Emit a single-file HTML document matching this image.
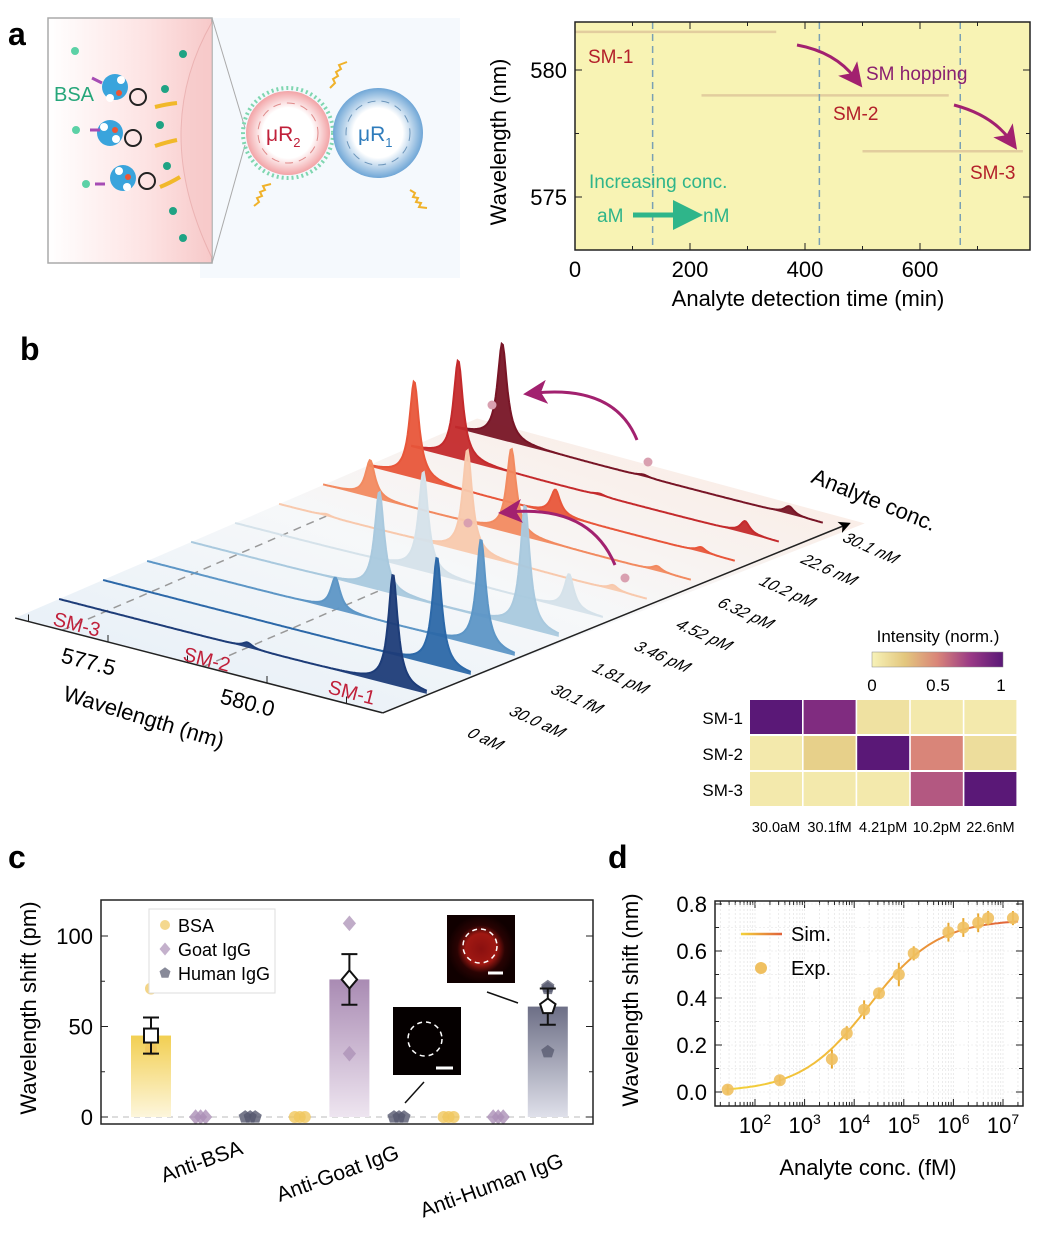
<!DOCTYPE html>
<html><head><meta charset="utf-8"><style>
html,body{margin:0;padding:0;background:#fff;}
svg{display:block;font-family:"Liberation Sans",Arial,sans-serif;}
</style></head><body>
<svg id="fig" width="1060" height="1244" viewBox="0 0 1060 1244" xmlns="http://www.w3.org/2000/svg">
<defs>
<linearGradient id="pinkbg" x1="0" x2="1" y1="0" y2="0"><stop offset="0" stop-color="#fff"/><stop offset="0.6" stop-color="#fde3e3"/><stop offset="1" stop-color="#f7c9c9"/></linearGradient>
<radialGradient id="r2g"><stop offset="0.6" stop-color="#fff"/><stop offset="1" stop-color="#f2a3a6"/></radialGradient>
<radialGradient id="r1g"><stop offset="0.55" stop-color="#fff"/><stop offset="1" stop-color="#6fa6d6"/></radialGradient>
<linearGradient id="floorg" x1="0" x2="1" y1="1" y2="0"><stop offset="0" stop-color="#dce9f5"/><stop offset="0.5" stop-color="#f4f6f8"/><stop offset="1" stop-color="#fbe3d6"/></linearGradient>
<linearGradient id="simg" x1="0" x2="1"><stop offset="0" stop-color="#f3d23a"/><stop offset="0.5" stop-color="#f0b23a"/><stop offset="1" stop-color="#e0603a"/></linearGradient>
<linearGradient id="simLeg" gradientUnits="userSpaceOnUse" x1="741" x2="782" y1="0" y2="0"><stop offset="0" stop-color="#f3d23a"/><stop offset="1" stop-color="#e0603a"/></linearGradient>
<linearGradient id="cbar" x1="0" x2="1"><stop offset="0" stop-color="#f7f2b8"/><stop offset="0.25" stop-color="#e3c77e"/><stop offset="0.5" stop-color="#d98579"/><stop offset="0.75" stop-color="#9a3a86"/><stop offset="1" stop-color="#5a1877"/></linearGradient>
<linearGradient id="barB" x1="0" y1="0" x2="0" y2="1"><stop offset="0" stop-color="#f2cf52"/><stop offset="1" stop-color="#fdf6dc"/></linearGradient>
<linearGradient id="barG" x1="0" y1="0" x2="0" y2="1"><stop offset="0" stop-color="#a98bb3"/><stop offset="1" stop-color="#eee5f0"/></linearGradient>
<linearGradient id="barH" x1="0" y1="0" x2="0" y2="1"><stop offset="0" stop-color="#6d6f86"/><stop offset="1" stop-color="#dfe0ea"/></linearGradient>
<radialGradient id="insetRed"><stop offset="0" stop-color="#8a1010"/><stop offset="0.45" stop-color="#a01812"/><stop offset="0.7" stop-color="#2a0303"/><stop offset="1" stop-color="#100000"/></radialGradient>
<marker id="arrM" markerWidth="8" markerHeight="8" refX="4" refY="4" orient="auto"><path d="M0,0 L8,4 L0,8 L2,4 z" fill="#a2216f"/></marker>
<marker id="arrG" markerWidth="6" markerHeight="6" refX="3" refY="3" orient="auto"><path d="M0,0 L6,3 L0,6 z" fill="#2fb58a"/></marker>
<marker id="arrK" markerWidth="8" markerHeight="8" refX="6" refY="4" orient="auto"><path d="M0,0 L8,4 L0,8 L2,4 z" fill="#000"/></marker>
</defs>

<text x="8" y="45" font-size="32" font-weight="bold">a</text>
<text x="20" y="360" font-size="32" font-weight="bold">b</text>
<text x="8" y="868" font-size="32" font-weight="bold">c</text>
<text x="608" y="868" font-size="32" font-weight="bold">d</text>

<g>
<rect x="200" y="18" width="260" height="260" fill="#f1f7fc" opacity="0.7"/>
<rect x="48" y="18" width="164" height="245" fill="url(#pinkbg)" stroke="#aaa" stroke-width="1.5"/>
<path d="M212,22 Q150,130 212,258" fill="#f7caca" opacity="0.6" stroke="#e3a0a0"/>
<line x1="212" y1="18" x2="245" y2="128" stroke="#aaa"/>
<line x1="212" y1="263" x2="245" y2="145" stroke="#aaa"/>
<text x="54" y="101" font-size="20" fill="#26a67a">BSA</text>
<g>
<circle cx="115" cy="87" r="13" fill="#3aa4dc"/><circle cx="110" cy="98" r="4" fill="#fff"/><circle cx="121" cy="80" r="4" fill="#fff"/><circle cx="119" cy="93" r="3" fill="#e53"/>
<circle cx="110" cy="133" r="13" fill="#3aa4dc"/><circle cx="104" cy="127" r="4" fill="#fff"/><circle cx="116" cy="139" r="4" fill="#fff"/><circle cx="115" cy="130" r="3" fill="#e53"/>
<circle cx="123" cy="178" r="13" fill="#3aa4dc"/><circle cx="119" cy="171" r="4" fill="#fff"/><circle cx="127" cy="187" r="4" fill="#fff"/><circle cx="128" cy="177" r="3" fill="#e53"/>
<circle cx="138" cy="97" r="8" fill="none" stroke="#222" stroke-width="2"/><circle cx="133" cy="138" r="8" fill="none" stroke="#222" stroke-width="2"/><circle cx="147" cy="181" r="8" fill="none" stroke="#222" stroke-width="2"/>
<circle cx="75" cy="51" r="4" fill="#5cd1a6"/><circle cx="76" cy="130" r="4" fill="#5cd1a6"/><circle cx="86" cy="184" r="4" fill="#5cd1a6"/>
<path d="M92,78 l10,5 M90,130 l10,0 M95,184 l10,0" stroke="#a64cb4" stroke-width="3"/>
<path d="M155,107 q12,-3 22,-4 M155,146 q12,-4 22,-6 M160,187 q10,-4 20,-10" stroke="#f1b82a" stroke-width="4" fill="none"/>
<circle cx="183" cy="54" r="4" fill="#1fa384"/><circle cx="165" cy="89" r="4" fill="#1fa384"/><circle cx="160" cy="125" r="4" fill="#1fa384"/><circle cx="167" cy="166" r="4" fill="#1fa384"/><circle cx="173" cy="211" r="4" fill="#1fa384"/><circle cx="183" cy="238" r="4" fill="#1fa384"/>
</g>
<circle cx="288" cy="133" r="45" fill="none" stroke="#7fd6b0" stroke-width="4" stroke-dasharray="2,3"/>
<circle cx="288" cy="133" r="42" fill="url(#r2g)"/>
<circle cx="288" cy="133" r="30" fill="none" stroke="#e08a8a" stroke-dasharray="8,6"/>
<text x="266" y="141" font-size="21" fill="#c0203a">μR<tspan font-size="13" dy="6">2</tspan></text>
<circle cx="378" cy="133" r="45" fill="url(#r1g)"/>
<circle cx="378" cy="133" r="32" fill="none" stroke="#6d96bb" stroke-dasharray="8,6"/>
<text x="358" y="141" font-size="21" fill="#2f7cbc">μR<tspan font-size="13" dy="6">1</tspan></text>
<path d="M330,88 l5,-5 l-2,-4 l5,-3 l-2,-4 l5,-3 l-2,-4 l8,-3 M254,206 l5,-4 l-2,-4 l5,-2 l-2,-4 l5,-2 l-2,-4 l8,-2 M410,190 l5,3 l-2,4 l5,1 l-2,4 l5,1 l-2,4 l8,1" stroke="#f0b22a" stroke-width="2" fill="none"/>
</g>

<g id="pa"></g>
<g id="pb"></g>
<g id="ph"></g>
<g id="pc"></g>
<g id="pd"></g>
</svg>
<script>
const modeNames = ['SM-1','SM-2','SM-3'];
const modeStart = [0, 220, 500];
const modeEnd = [350, 650, 779];
const modeWl = [581.5, 579.0, 576.8];
const dashTimes = [135, 425, 670];
const aXTicks = [0, 200, 400, 600];
const aYTicks = [575, 580];

const concLabels = ['0 aM','30.0 aM','30.1 fM','1.81 pM','3.46 pM','4.52 pM','6.32 pM','10.2 pM','22.6 nM','30.1 nM'];
const peakWl = [581.29, 579.0, 576.78];
const sm1Int = [1.11, 1.09, 1.08, 1.23, 0.35, 0.05, 0.05, 0.05, 0.12, 0.08];
const sm2Int = [0.05, 0.0, 0.32, 0.99, 1.00, 1.03, 0.85, 0.25, 0.02, 0.02];
const sm3Int = [0, 0, 0, 0, 0, 0.02, 0.37, 0.97, 0.99, 0.97];
const rowColors = ['#1d3c78','#2c68a8','#5d96c6','#a9c9de','#d5e2ea','#f8c9ad','#f28a60','#e8563a','#c42a2c','#781526'];

const hmRows = ['SM-1','SM-2','SM-3'];
const hmCols = ['30.0aM','30.1fM','4.21pM','10.2pM','22.6nM'];
const hmVals = [[1.0,0.85,0.1,0.05,0.05],[0.05,0.2,1.0,0.5,0.12],[0.05,0.05,0.05,0.65,1.0]];

const cCats = ['Anti-BSA','Anti-Goat IgG','Anti-Human IgG'];
const cMeans = [45, 76, 61];
const cErr = [10, 14, 10];
const cPoints = [[71,37,38],[107,72,35],[72,71,36]];
const cTicks = [0, 50, 100];

const dLogConc = [1.45, 2.5, 3.55, 3.85, 4.2, 4.5, 4.9, 5.2, 5.9, 6.2, 6.5, 6.7, 7.2];
const dShift = [0.01, 0.05, 0.14, 0.25, 0.35, 0.42, 0.50, 0.59, 0.68, 0.70, 0.72, 0.74, 0.74];
const dErr = [0.02, 0.02, 0.04, 0.03, 0.04, 0.02, 0.05, 0.03, 0.04, 0.04, 0.04, 0.03, 0.03];
const simMax = 0.735, simLogK = 4.3, simN = 0.63;
const dYTicks = [0, 0.2, 0.4, 0.6, 0.8];
const dXTicks = [2, 3, 4, 5, 6, 7];

const NS = 'http://www.w3.org/2000/svg';
function mk(tag, attrs, parent){ const e=document.createElementNS(NS,tag); for(const k in attrs) e.setAttribute(k,attrs[k]); parent.appendChild(e); return e; }
function txt(s, attrs, parent){ const e=mk('text',attrs,parent); e.textContent=s; return e; }

(function(){
 const g=document.getElementById('pa');
 const L=575,R=1030,T=22,B=250;
 const xA=t=>L+t*0.575, yA=w=>70+(580-w)*25.4;
 let e=mk('rect',{x:L,y:T,width:R-L,height:B-T,fill:'#f8f3b4'},g);
 
 
 for(let i=0;i<modeWl.length;i++){
  const ln=mk('line',{x1:xA(modeStart[i]),x2:xA(modeEnd[i]),y1:yA(modeWl[i]),y2:yA(modeWl[i]),stroke:'#b0786c','stroke-width':2.5,opacity:0.3},g);
  
  
 }
 for(const t of dashTimes){
  const d=mk('line',{x1:xA(t),x2:xA(t),y1:T,y2:B,stroke:'#7aa0b4','stroke-width':1.5,'stroke-dasharray':'7,5'},g);
  
  
 }
 e=mk('rect',{x:L,y:T,width:R-L,height:B-T,fill:'none',stroke:'#222','stroke-width':1.5},g);
 
 
 for(let t=0;t<=780;t+=100){
  const maj=t%200===0, len=maj?7:4;
  mk('line',{x1:xA(t),x2:xA(t),y1:B,y2:B-len,stroke:'#222'},g);
  mk('line',{x1:xA(t),x2:xA(t),y1:T,y2:T+len,stroke:'#222'},g);
 }
 for(const t of aXTicks){
  const tl=txt(String(t),{x:xA(t),y:277,'font-size':22,'text-anchor':'middle'},g);
  
  
 }
 for(let w=572.5;w<=582;w+=2.5){
  if(yA(w)>B||yA(w)<T) continue;
  const maj=w%5===0,len=maj?7:4;
  mk('line',{x1:L,x2:L+len,y1:yA(w),y2:yA(w),stroke:'#222'},g);
  mk('line',{x1:R,x2:R-len,y1:yA(w),y2:yA(w),stroke:'#222'},g);
 }
 for(const w of aYTicks){
  const tl=txt(String(w),{x:567,y:yA(w)+8,'font-size':22,'text-anchor':'end'},g);
  
  
 }
 let t=txt('Wavelength (nm)',{x:0,y:0,'font-size':22,'text-anchor':'middle',transform:'translate(506,142) rotate(-90)'},g);
 
 
 t=txt('Analyte detection time (min)',{x:808,y:306,'font-size':22,'text-anchor':'middle'},g);
 
 
 const lab=[['SM-1',588,63],['SM-2',833,120],['SM-3',970,179]];
 for(const [s,x,y] of lab){ const l=txt(s,{x:x,y:y,'font-size':19,fill:'#b3202a'},g);
  
   }
 t=txt('SM hopping',{x:866,y:80,'font-size':19,fill:'#8a2070'},g);
 
 
 let a=mk('path',{d:'M797,45 Q835,52 855,78',fill:'none',stroke:'#a2216f','stroke-width':3,'marker-end':'url(#arrM)'},g);
 
 
 a=mk('path',{d:'M954,105 Q992,115 1010,140',fill:'none',stroke:'#a2216f','stroke-width':3,'marker-end':'url(#arrM)'},g);
 
 
 t=txt('Increasing conc.',{x:589,y:188,'font-size':19,fill:'#2fb58a'},g);
 
 
 t=txt('aM',{x:597,y:222,'font-size':19,fill:'#2fb58a'},g);
 
 
 t=txt('nM',{x:703,y:222,'font-size':19,fill:'#2fb58a'},g);
 
 
 a=mk('line',{x1:633,y1:215,x2:688,y2:215,stroke:'#2fb58a','stroke-width':5,'marker-end':'url(#arrG)'},g);
 
 
})();

(function(){
 const g=document.getElementById('pb');
 const WL0=576.04, WL1=581.82;
 const px=(w,d)=>108+(w-577.5)*63.6+44*d;
 const py=(w,d,h)=>642+(w-577.5)*63.6*0.258-19*d-h;
 let fl=mk('polygon',{points:`${px(WL0,0)},${py(WL0,0,0)} ${px(WL1,0)},${py(WL1,0,0)} ${px(WL1,10.5)+20},${py(WL1,10.5,0)+10} ${px(WL0,10.5)},${py(WL0,10.5,0)}`,fill:'url(#floorg)',opacity:0.8},g);
 
 
 const guides=[[peakWl[2],6],[peakWl[1],4]];
 for(const [w,d] of guides){ const l=mk('line',{x1:px(w,0),y1:py(w,0,0),x2:px(w,d),y2:py(w,d,0),stroke:'#999','stroke-width':1.5,'stroke-dasharray':'8,6'},g);
  
   }
 const ints=[sm1Int,sm2Int,sm3Int];
 const gam=0.09;
 for(let r=concLabels.length-1;r>=0;r--){
  const d=r+1; let pts=[];
  for(let k=0;k<=300;k++){
   const w=WL0+(WL1-WL0)*k/300; let h=0;
   for(let m=0;m<3;m++){ const dx=(w-peakWl[m])/gam; h+=ints[m][r]*100/(1+dx*dx); }
   pts.push([px(w,d),py(w,d,h)]);
  }
  const poly=pts.map(p=>p[0].toFixed(1)+','+p[1].toFixed(1)).join(' ');
  const area=mk('polygon',{points:poly+` ${px(WL1,d)},${py(WL1,d,0)} ${px(WL0,d)},${py(WL0,d,0)}`,fill:rowColors[r],opacity:0.95},g);
  
  
  const ln=mk('polyline',{points:poly,fill:'none',stroke:rowColors[r],'stroke-width':2},g);
  
  
  const lb=txt(concLabels[r],{x:0,y:0,'font-size':16,'font-style':'italic',transform:`translate(${466+41.7*r},${736-21.7*r}) rotate(24) skewX(-15)`},g);
  
  
 }
 let ax=mk('line',{x1:px(WL0,0),y1:py(WL0,0,0),x2:px(WL1,0),y2:py(WL1,0,0),stroke:'#222','stroke-width':1.5},g);
 
 
 ax=mk('line',{x1:px(WL1,0),y1:py(WL1,0,0),x2:848,y2:524,stroke:'#222','stroke-width':1.5,'marker-end':'url(#arrK)'},g);
 
 
 for(const w of [576.25,577.5,578.75,580,581.25]){ mk('line',{x1:px(w,0),y1:py(w,0,0),x2:px(w,0),y2:py(w,0,0)-7,stroke:'#222'},g); }
 for(const w of [577.5,580]){ const t=txt(w.toFixed(1),{x:0,y:0,'font-size':22,transform:`translate(${px(w,0)-48},${py(w,0,0)+20}) rotate(14.5)`},g);
  
   }
 let t=txt('Wavelength (nm)',{x:0,y:0,'font-size':22,transform:'translate(62,700) rotate(17)'},g);
 
 
 t=txt('Analyte conc.',{x:0,y:0,'font-size':22,transform:'translate(810,482) rotate(22)'},g);
 
 
 const sml=[['SM-3',52,625],['SM-2',182,660],['SM-1',327,693]];
 for(const [s,x,y] of sml){ const l=txt(s,{x:0,y:0,'font-size':20,fill:'#c0203a',transform:`translate(${x},${y}) rotate(14.5)`},g);
  
   }
 let a=mk('path',{d:'M637,440 Q615,385 535,393',fill:'none',stroke:'#a2216f','stroke-width':3,'marker-end':'url(#arrM)'},g);
 
 
 a=mk('path',{d:'M615,565 Q590,505 510,512',fill:'none',stroke:'#a2216f','stroke-width':3,'marker-end':'url(#arrM)'},g);
 
 
 for(const [x,y] of [[648,462],[625,578],[492,405],[468,523]]){ const c=mk('circle',{cx:x,cy:y,r:4.5,fill:'#d9a0b0'},g);
  
   }
})();

(function(){
 const g=document.getElementById('ph');
 const stops=[[0,[247,242,184]],[0.25,[227,199,126]],[0.5,[217,133,121]],[0.75,[154,58,134]],[1,[90,24,119]]];
 function col(v){ for(let i=1;i<stops.length;i++){ if(v<=stops[i][0]){ const [a,ca]=stops[i-1],[b,cb]=stops[i]; const f=(v-a)/(b-a); return 'rgb('+ca.map((c,k)=>Math.round(c+(cb[k]-c)*f)).join(',')+')'; } } return 'rgb(90,24,119)'; }
 for(let i=0;i<hmRows.length;i++){
  const rl=txt(hmRows[i],{x:743,y:724+i*36,'font-size':17,'text-anchor':'end'},g);
  
  
  for(let j=0;j<hmCols.length;j++){
   const c=mk('rect',{x:750+j*53.6,y:700+i*36,width:52,height:34,fill:col(hmVals[i][j])},g);
   
   
  }
 }
 for(let j=0;j<hmCols.length;j++){ const cl=txt(hmCols[j],{x:776+j*53.6,y:832,'font-size':14.5,'text-anchor':'middle'},g);
  
   }
 let e=mk('rect',{x:872,y:652,width:131,height:15,fill:'url(#cbar)',stroke:'#888','stroke-width':0.5},g);
 
 
 let t=txt('Intensity (norm.)',{x:938,y:642,'font-size':17,'text-anchor':'middle'},g);
 
 
 for(const [s,x] of [['0',872],['0.5',938],['1',1001]]){ const l=txt(s,{x:x,y:691,'font-size':17,'text-anchor':'middle'},g);
  
   }
})();

(function(){
 const g=document.getElementById('pc');
 const L=101,R=593,T=900,B=1124;
 const yC=v=>1117-v*1.81;
 const xPos=k=>151+k*49.6;
 const colors=['#f0c75e','#ab90b6','#55586e'];
 const grads=['url(#barB)','url(#barG)','url(#barH)'];
 let z=mk('line',{x1:L,x2:R,y1:yC(0),y2:yC(0),stroke:'#bbb','stroke-dasharray':'6,5'},g);
 
 
 function marker(type,x,y,fill,stroke,sw,s){
  let e;
  if(type===0) e=mk('circle',{cx:x,cy:y,r:s,fill:fill,stroke:stroke,'stroke-width':sw},g);
  else if(type===1) e=mk('polygon',{points:`${x},${y-s*1.3} ${x+s*1.1},${y} ${x},${y+s*1.3} ${x-s*1.1},${y}`,fill:fill,stroke:stroke,'stroke-width':sw},g);
  else { let p=[]; for(let k=0;k<5;k++){ const a=-Math.PI/2+k*2*Math.PI/5; p.push((x+s*1.15*Math.cos(a)).toFixed(1)+','+(y+s*1.15*Math.sin(a)).toFixed(1)); } e=mk('polygon',{points:p.join(' '),fill:fill,stroke:stroke,'stroke-width':sw},g); }
  return e;
 }
 for(let c=0;c<3;c++){
  for(let m=0;m<3;m++){
   const slot=c*3+m, x=xPos(slot);
   if(m===c){
    const b=mk('rect',{x:x-20,y:yC(cMeans[c]),width:40,height:yC(0)-yC(cMeans[c]),fill:grads[m]},g);
    
    
    for(const v of cPoints[c]){ const p=marker(m,x,yC(v),colors[m],'none',0,6); p.setAttribute('opacity','0.75');
     
      }
    const eb=mk('path',{d:`M${x},${yC(cMeans[c]+cErr[c])} V${yC(cMeans[c]-cErr[c])} M${x-8},${yC(cMeans[c]+cErr[c])} h16 M${x-8},${yC(cMeans[c]-cErr[c])} h16`,stroke:'#111','stroke-width':2,fill:'none'},g);
    
    
    const mm=marker(m,x,yC(cMeans[c]),'#fff','#111',2,7);
    if(m===0){ mm.remove(); const sq=mk('rect',{x:x-7,y:yC(cMeans[c])-7,width:14,height:14,fill:'#fff',stroke:'#111','stroke-width':2},g);
     
      }
    else { 
      }
   } else {
    for(const dx of [-5,0,5]){ const p=marker(m,x+dx,yC(0),colors[m],'none',0,6); p.setAttribute('opacity','0.8');
     
      }
   }
  }
 }
 let fr=mk('rect',{x:L,y:T,width:R-L,height:B-T,fill:'none',stroke:'#222','stroke-width':1.5},g);
 
 
 for(let v=0;v<=110;v+=25){ const len=v%50===0?7:4;
  mk('line',{x1:L,x2:L+len,y1:yC(v),y2:yC(v),stroke:'#222'},g);
  mk('line',{x1:R,x2:R-len,y1:yC(v),y2:yC(v),stroke:'#222'},g); }
 for(const v of cTicks){ const l=txt(String(v),{x:93,y:yC(v)+8,'font-size':22,'text-anchor':'end'},g);
  
   }
 let t=txt('Wavelength shift (pm)',{x:0,y:0,'font-size':22,'text-anchor':'middle',transform:'translate(36,1008) rotate(-90)'},g);
 
 
 const cx=[[204,1168],[340,1180],[494,1192]];
 for(let c=0;c<3;c++){ const l=txt(cCats[c],{x:0,y:0,'font-size':21,'text-anchor':'middle',transform:`translate(${cx[c][0]},${cx[c][1]}) rotate(-20)`},g);
  
   }
 let lg=mk('rect',{x:149,y:909,width:126,height:84,fill:'#fff',stroke:'#ddd'},g);
 
 
 const ln=['BSA','Goat IgG','Human IgG'];
 for(let m=0;m<3;m++){ const p=marker(m,165,925+m*24,colors[m],'none',0,5); p.setAttribute('opacity','0.7');
  
  
  const l=txt(ln[m],{x:178,y:932+m*24,'font-size':18},g);
  
   }
 let r=mk('rect',{x:447,y:915,width:68,height:68,fill:'url(#insetRed)'},g);
 
 
 mk('circle',{cx:480,cy:946,r:17,fill:'none',stroke:'#fff','stroke-width':1.5,'stroke-dasharray':'5,4'},g);
 mk('line',{x1:488,x2:503,y1:973,y2:973,stroke:'#fff','stroke-width':3},g);
 r=mk('rect',{x:393,y:1007,width:68,height:68,fill:'#050000'},g);
 
 
 mk('circle',{cx:425,cy:1039,r:17,fill:'none',stroke:'#fff','stroke-width':1.5,'stroke-dasharray':'5,4'},g);
 mk('line',{x1:436,x2:453,y1:1068,y2:1068,stroke:'#fff','stroke-width':3},g);
 mk('line',{x1:487,y1:992,x2:518,y2:1003,stroke:'#111','stroke-width':1.5},g);
 mk('line',{x1:424,y1:1082,x2:405,y2:1103,stroke:'#111','stroke-width':1.5},g);
})();

(function(){
 const g=document.getElementById('pd');
 const L=715,R=1023,T=901,B=1106;
 const xD=l=>755+(l-2)*49.6, yD=v=>1092-v*235;
 for(let dcd=1;dcd<=7;dcd++){ for(let k=1;k<=9;k++){ const x=xD(dcd+Math.log10(k)); if(x<=L||x>=R) continue;
  mk('line',{x1:x,x2:x,y1:T,y2:B,stroke:'#e6e6e6','stroke-width':0.8,'stroke-dasharray':'2,2'},g);
  const len=k===1?7:4; mk('line',{x1:x,x2:x,y1:B,y2:B-len,stroke:'#222'},g); mk('line',{x1:x,x2:x,y1:T,y2:T+len,stroke:'#222'},g); } }
 for(let v=0;v<=0.81;v+=0.1){ const y=yD(v); mk('line',{x1:L,x2:R,y1:y,y2:y,stroke:'#ececec','stroke-width':0.8,'stroke-dasharray':'2,2'},g);
  const len=Math.round(v*10)%2===0?7:4; mk('line',{x1:L,x2:L+len,y1:y,y2:y,stroke:'#222'},g); mk('line',{x1:R,x2:R-len,y1:y,y2:y,stroke:'#222'},g); }
 let pts=[]; for(let l=1.4;l<=7.3;l+=0.05){ const r=Math.pow(10,(l-simLogK)*simN); pts.push(xD(l).toFixed(1)+','+yD(simMax*r/(1+r)).toFixed(1)); }
 let c=mk('polyline',{points:pts.join(' '),fill:'none',stroke:'url(#simg)','stroke-width':2},g);
 
 
 for(let i=0;i<dLogConc.length;i++){
  const x=xD(dLogConc[i]);
  const eb=mk('line',{x1:x,x2:x,y1:yD(dShift[i]+dErr[i]),y2:yD(dShift[i]-dErr[i]),stroke:'#e8a830','stroke-width':2},g);
  
  
  const p=mk('circle',{cx:x,cy:yD(dShift[i]),r:6,fill:'#f0c060',opacity:0.9},g);
  
  
 }
 let fr=mk('rect',{x:L,y:T,width:R-L,height:B-T,fill:'none',stroke:'#222','stroke-width':1.5},g);
 
 
 for(const v of dYTicks){ const l=txt(v.toFixed(1),{x:707,y:yD(v)+8,'font-size':22,'text-anchor':'end'},g);
  
   }
 for(const l of dXTicks){ const t=mk('text',{x:xD(l),y:1133,'font-size':22,'text-anchor':'middle'},g);
  t.innerHTML='10<tspan font-size="14" dy="-9">'+l+'</tspan>';
  
   }
 let t=txt('Wavelength shift (nm)',{x:0,y:0,'font-size':22,'text-anchor':'middle',transform:'translate(638,1000) rotate(-90)'},g);
 
 
 t=txt('Analyte conc. (fM)',{x:868,y:1175,'font-size':22,'text-anchor':'middle'},g);
 
 
 let l=mk('line',{x1:741,x2:782,y1:934,y2:934,stroke:'url(#simLeg)','stroke-width':2.5},g);
 
 
 t=txt('Sim.',{x:791,y:941,'font-size':20},g);
 
 
 l=mk('circle',{cx:761,cy:968,r:6,fill:'#f0c060'},g);
 
 
 t=txt('Exp.',{x:791,y:975,'font-size':20},g);
 
 
})();
</script>
</body></html>
